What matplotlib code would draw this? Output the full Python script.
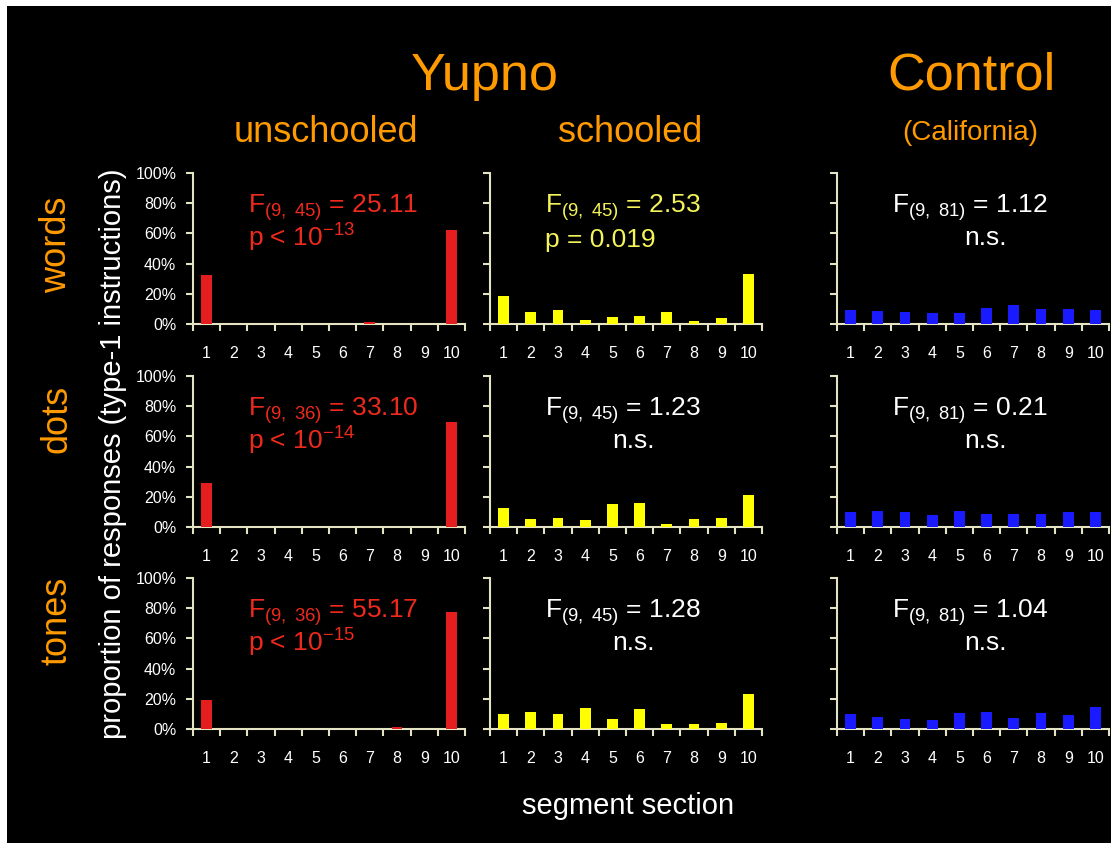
import matplotlib
matplotlib.use('Agg')
import matplotlib.pyplot as plt
from matplotlib.patches import Rectangle

plt.rcParams['font.family'] = ['Liberation Sans', 'DejaVu Sans']
plt.rcParams['mathtext.fontset'] = 'custom'
plt.rcParams['mathtext.rm'] = 'Liberation Sans'
plt.rcParams['mathtext.it'] = 'Liberation Sans:italic'
plt.rcParams['mathtext.bf'] = 'Liberation Sans:bold'

# ---- data (percent of type-1 responses per segment section) ----
segments = list(range(1, 11))
tasks = ['words', 'dots', 'tones']
groups = ['unschooled', 'schooled', 'control']

words_unschooled = [32.2, 0, 0.3, 0, 0, 0.3, 1.2, 0.3, 0.3, 62.5]
words_schooled = [18.8, 7.7, 9.5, 2.9, 4.6, 5.5, 7.7, 2.0, 3.8, 33.1]
words_control = [9.3, 8.9, 8.2, 7.3, 7.3, 10.6, 12.4, 9.8, 9.8, 9.3]
dots_unschooled = [29.4, 0, 0, 0, 0, 0, 0, 0, 0, 69.8]
dots_schooled = [12.7, 5.3, 6.1, 4.4, 15.4, 16.0, 2.0, 5.3, 6.1, 21.1]
dots_control = [9.7, 10.8, 9.7, 7.9, 10.4, 8.4, 8.4, 8.4, 9.7, 9.7]
tones_unschooled = [18.9, 0.3, 0, 0, 0, 0, 0, 1.5, 0.3, 77.3]
tones_schooled = [9.8, 11.3, 9.8, 14.0, 6.4, 13.1, 3.1, 3.1, 4.0, 23.1]
tones_control = [9.8, 8.0, 6.7, 5.8, 10.3, 11.4, 7.4, 10.5, 9.4, 14.7]

values = [[words_unschooled, words_schooled, words_control],
          [dots_unschooled, dots_schooled, dots_control],
          [tones_unschooled, tones_schooled, tones_control]]

f_stats = [[('9, 45', '25.11'), ('9, 45', '2.53'), ('9, 81', '1.12')],
           [('9, 36', '33.10'), ('9, 45', '1.23'), ('9, 81', '0.21')],
           [('9, 36', '55.17'), ('9, 45', '1.28'), ('9, 81', '1.04')]]
p_stats = [[r'p < 10$^{\mathrm{-13}}$', 'p = 0.019', 'n.s.'],
           [r'p < 10$^{\mathrm{-14}}$', 'n.s.', 'n.s.'],
           [r'p < 10$^{\mathrm{-15}}$', 'n.s.', 'n.s.']]

yticks = [0, 20, 40, 60, 80, 100]
ytick_labels = [f'{v}%' for v in yticks]

# ---- style ----
W, H = 1111, 843
ORANGE = '#ff9a00'
AXC = '#e4e4c4'
RED_T, YEL_T = '#ee2a1c', '#f4f45a'
bar_colors = ['#e41e1e', '#ffff00', '#1a1aff']
# significant results are coloured like their bars, n.s. ones are white
text_colors = [[RED_T, YEL_T, 'white'],
               [RED_T, 'white', 'white'],
               [RED_T, 'white', 'white']]

fig = plt.figure(figsize=(W / 100, H / 100), dpi=100)
fig.patch.set_facecolor('white')
fig.patches.append(Rectangle((7 / W, 0), 1 - 7 / W, 1 - 6 / H, transform=fig.transFigure,
                             facecolor='black', edgecolor='none', zorder=-10))

def fx(px): return px / W
def fy(py): return 1 - py / H

col_left = [193, 490, 837]
row_top = [173, 376, 578]
ax_w, ax_h = 272, 151

for r in range(3):
    for c in range(3):
        ax = fig.add_axes([fx(col_left[c]), fy(row_top[r] + ax_h), ax_w / W, ax_h / H])
        ax.set_facecolor('none')
        ax.bar(segments, values[r][c], width=0.4, color=bar_colors[c], zorder=3)
        ax.set_xlim(0.5, 10.5)
        ax.set_ylim(0, 100)
        for s in ['top', 'right']:
            ax.spines[s].set_visible(False)
        for s in ['left', 'bottom']:
            ax.spines[s].set_color(AXC)
            ax.spines[s].set_linewidth(1.5)
        ax.set_xticks([s - 0.5 for s in segments] + [10.5])
        ax.set_xticks(segments, minor=True)
        ax.set_xticklabels([str(s) for s in segments], minor=True)
        ax.tick_params(axis='x', which='major', labelbottom=False, length=5, width=1.5, color=AXC)
        ax.tick_params(axis='x', which='minor', length=0, pad=16, labelsize=11.5, labelcolor='white')
        ax.set_yticks(yticks)
        if c == 0:
            ax.set_yticklabels(ytick_labels)
        else:
            ax.set_yticklabels([])
        ax.tick_params(axis='y', length=5, width=1.5, color=AXC, pad=7,
                       labelsize=11.5, labelcolor='white')

        df, fval = f_stats[r][c]
        tc = text_colors[r][c]
        ftxt = r'F$_{\mathrm{(' + df.replace(' ', r'\ ') + r')}}$ = ' + fval
        ax.text(0.204, 0.735, ftxt, transform=ax.transAxes, color=tc, fontsize=19,
                ha='left', va='baseline')
        if p_stats[r][c] == 'n.s.':
            ax.text([0, 0.529, 0.544][c], 0.52, 'n.s.', transform=ax.transAxes, color=tc,
                    fontsize=19, ha='center', va='baseline')
        else:
            ax.text(0.204, 0.51, p_stats[r][c], transform=ax.transAxes, color=tc,
                    fontsize=19, ha='left', va='baseline')

# ---- headings ----
fig.text(fx(485), fy(90), 'Yupno', color=ORANGE, fontsize=37.5, ha='center', va='baseline')
fig.text(fx(971), fy(90), 'Control', color=ORANGE, fontsize=37.5, ha='center', va='baseline')
fig.text(fx(326), fy(142), 'unschooled', color=ORANGE, fontsize=26, ha='center', va='baseline')
fig.text(fx(630), fy(142), 'schooled', color=ORANGE, fontsize=26, ha='center', va='baseline')
fig.text(fx(970), fy(140), '(California)', color=ORANGE, fontsize=20, ha='center', va='baseline')

for name, yc in zip(tasks, [245, 419, 621]):
    fig.text(fx(57), fy(yc), name, color=ORANGE, fontsize=26, rotation=90,
             ha='center', va='center')

fig.text(fx(113), fy(454), 'proportion of responses (type-1 instructions)', color='white',
         fontsize=21, rotation=90, ha='center', va='center')
fig.text(fx(628), fy(814), 'segment section', color='white', fontsize=21,
         ha='center', va='baseline')

fig.savefig('out.png', dpi=100, facecolor=fig.get_facecolor())
